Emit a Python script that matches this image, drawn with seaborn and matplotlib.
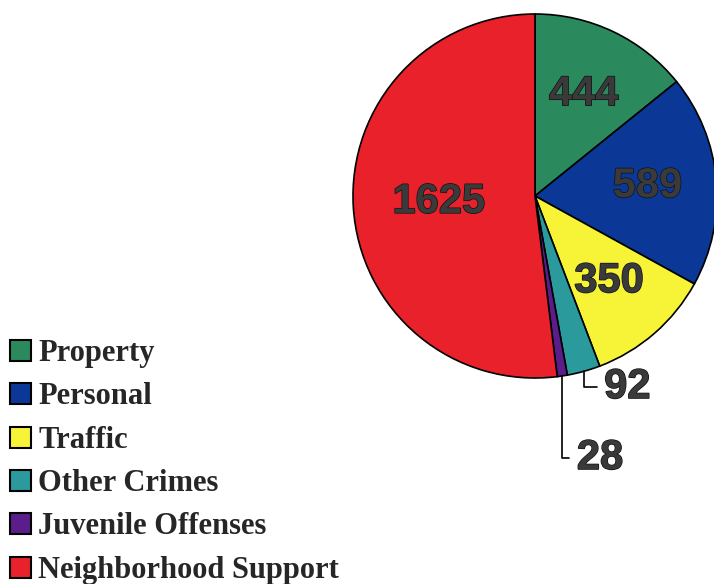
import numpy as np
import matplotlib
matplotlib.use("Agg")
import matplotlib.pyplot as plt
import matplotlib.patheffects as pe
import seaborn as sns

categories = ["Property", "Personal", "Traffic", "Other Crimes",
              "Juvenile Offenses", "Neighborhood Support"]
counts = [444, 589, 350, 92, 28, 1625]
colors = ["#2a8a5e", "#0b3897", "#f7f337", "#2a9a9c", "#5a1d8a", "#e8212b"]

sns.set_style("white")
palette = sns.color_palette(colors)

fig = plt.figure(figsize=(7.14, 5.84), dpi=100)
ax = fig.add_axes([353 / 714, 1 - 378 / 584, 364 / 714, 364 / 584])

total = sum(counts)

def show_value(pct):
    v = int(round(pct * total / 100))
    return str(v) if pct > 5 else ""

num_font = dict(fontsize=30, fontweight="bold", family="Liberation Sans",
                color="#3a3a3a")
outline = [pe.withStroke(linewidth=1.0, foreground="#111111")]

wedges, texts, autotexts = ax.pie(
    counts, colors=palette, startangle=90, counterclock=False,
    autopct=show_value, pctdistance=0.62,
    wedgeprops=dict(edgecolor="black", linewidth=1.2),
    textprops=num_font)
for t in autotexts:
    t.set_path_effects(outline)

# the big slice label sits closer to the centre
x, y = autotexts[5].get_position()
autotexts[5].set_position((x * 0.53 / 0.62, y * 0.53 / 0.62))

ax.set_xlim(-1.0, 1.0)
ax.set_ylim(-1.0, 1.0)
ax.set_aspect("equal")
ax.axis("off")

# leader lines for small slices
small_text = {3: (0.38, -1.05), 4: (0.23, -1.44)}
for i, pos in small_text.items():
    w = wedges[i]
    ang = np.deg2rad((w.theta1 + w.theta2) / 2)
    edge = (np.cos(ang), np.sin(ang))
    ax.annotate(str(counts[i]), xy=edge, xytext=pos, ha="left", va="center",
                annotation_clip=False, path_effects=outline,
                arrowprops=dict(arrowstyle="-", color="black", lw=1.2,
                                shrinkA=3, shrinkB=0,
                                connectionstyle="angle,angleA=0,angleB=90,rad=0"),
                **num_font)

leg = fig.legend(wedges, categories, loc="upper left",
                 bbox_to_anchor=(10 / 714, 1 - 339 / 584), frameon=False,
                 handlelength=0.68, handleheight=0.68, handletextpad=0.25,
                 labelspacing=0.47, borderaxespad=0, borderpad=0,
                 prop=dict(family="Liberation Serif", weight="bold", size=22))
for h in leg.legend_handles:
    h.set_edgecolor("black")
    h.set_linewidth(1.5)

fig.savefig("out.png", dpi=100)
